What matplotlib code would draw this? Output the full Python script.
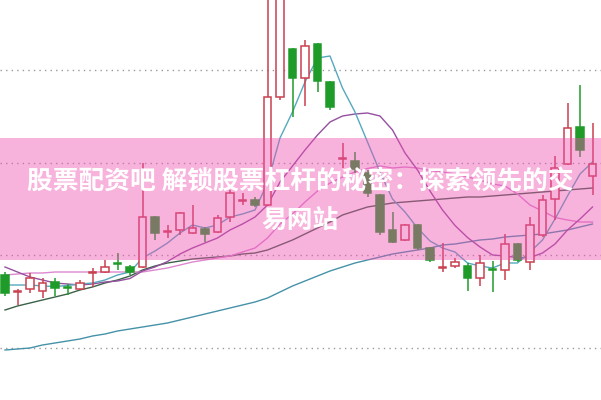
import matplotlib.pyplot as plt

# candle data, price units on an arbitrary scale
opens = [125, 108.5, 111, 109, 118, 113, 111, 127, 128, 137, 133, 133, 183, 168, 170, 167,
         171, 168, 183, 199.5, 200, 195, 303, 351, 322, 356, 318, 241.5, 239, 227, 205, 170,
         160, 175, 152, 132.5, 134, 134, 122, 131, 130, 156, 138, 165, 201, 236, 273, 224]
highs = [128, 111, 127, 122, 122, 116, 120, 132, 140, 147, 135, 237, 184, 175, 188, 195,
         173, 185, 210, 207, 203, 405, 408, 352, 360, 357, 319, 257, 248, 230, 206, 188,
         176, 176, 153, 157, 142, 137, 145, 139, 166, 157, 183, 205, 244, 297, 315, 277]
lows = [104, 95, 107, 102, 104, 105, 110, 113, 127, 130, 125, 132, 160, 162, 165, 166,
        158, 167, 178, 195, 193, 194, 300, 283, 294, 308, 290, 232, 227, 203, 165, 157,
        159, 150, 138, 128, 132, 109, 114, 108, 120, 138, 130, 163, 180, 235, 243, 205]
closes = [107, 109.5, 122, 117, 112, 112, 117, 128, 133, 136, 128, 183, 167, 169, 187, 172,
          166, 182, 207, 200.5, 195, 303, 403, 322, 354, 319, 293, 242.5, 231, 207, 168, 158,
          175, 152, 140, 133.5, 138, 122, 137, 130, 156, 140, 175, 200, 232, 272, 250, 236]

ma5 = [115, 115, 115, 114, 113.5, 114.5, 116, 117, 120, 125, 128, 142, 149, 157, 167, 175,
       172, 175, 183, 186, 190, 217, 262, 288, 318, 342, 344, 312, 288, 258, 228, 201,
       188, 172, 159, 152, 148, 137, 134, 132, 137, 137, 148, 160, 181, 204, 226, 238]
ma10 = [133, 128, 123, 120, 117, 116, 115, 116, 118, 119, 121.5, 129, 133, 138.5, 146, 152,
        157, 162, 170, 176, 183, 195, 218, 234, 250, 265, 278, 284, 286, 287, 284, 270,
        247, 230, 209, 190, 174.5, 162.5, 153, 145, 144, 142.4, 142.4, 147, 156, 170, 181, 193]
ma20 = [125, 126, 127, 127, 128, 128, 128, 128, 128, 128, 128, 128, 130, 132, 135, 138,
        140, 142, 144, 148, 152, 162, 176, 186, 198, 209, 217, 223, 228, 231.5, 234, 232,
        233, 232, 229.5, 228, 226, 223, 220, 216, 214, 206, 195, 189, 182.5, 180, 178, 178]
ma30 = [90, 94, 97, 100, 103, 106, 110, 113, 117, 120, 124, 130, 134, 137, 139, 141,
        142, 143, 144, 146, 147, 150, 155, 160, 166, 172, 178, 185, 189, 193, 195, 197,
        198, 199, 200, 201, 202, 203, 203, 204, 205, 206, 207, 208, 209, 210, 211, 212]
ma60 = [50, 51, 52, 55, 57, 59, 61, 64, 66, 69, 71, 73, 75, 77, 80, 83,
        86, 89, 92, 95, 98, 102, 108, 114, 119, 124, 129, 133, 137, 140, 143, 146,
        148, 150, 152, 155, 156, 158, 160, 161, 163, 164, 165, 166, 168, 170, 173, 176]

grid_levels = [52.5, 145, 237.5, 330]
title_lines = ["股票配资吧 解锁股票杠杆的秘密：探索领先的交", "易网站"]


def draw_candles(axis):
    up_color = "#c9404e"
    down_color = "#1f9b2a"
    body_width = 0.62
    for i in range(len(opens)):
        o, h, l, c = opens[i], highs[i], lows[i], closes[i]
        top = max(o, c)
        bottom = min(o, c)
        height = max(top - bottom, 0.8)
        if c >= o:
            color = up_color
            face = "white"
        else:
            color = down_color
            face = down_color
        axis.vlines(i, top, h, color=color, linewidth=1.1, zorder=3)
        axis.vlines(i, l, bottom, color=color, linewidth=1.1, zorder=3)
        axis.bar(i, height, bottom=bottom, width=body_width, facecolor=face,
                 edgecolor=color, linewidth=1.1, zorder=4)


def plot_chart():
    plt.rcParams["font.family"] = ["Noto Sans CJK SC", "DejaVu Sans"]
    fig = plt.figure(figsize=(6.01, 4.0), dpi=100)
    ax = fig.add_axes([0, 0, 1, 1])

    for level in grid_levels:
        ax.axhline(level, color="#9a9a9a", linewidth=1, linestyle=(0, (1, 3)), zorder=1)

    x = list(range(len(opens)))
    line_conf = {"linewidth": 1.0, "zorder": 2}
    ax.plot(x, ma60, color="#4592a8", **line_conf)
    ax.plot(x, ma30, color="#3b6146", **line_conf)
    ax.plot(x, ma20, color="#dd88d0", **line_conf)
    ax.plot(x, ma10, color="#95509f", **line_conf)
    ax.plot(x, ma5, color="#55a9bd", **line_conf)

    draw_candles(ax)

    # pink banner with title
    ax.axhspan(140, 262, color="#ef50b2", alpha=0.43, linewidth=0, zorder=5)
    ax.text(0.5, 0.545, title_lines[0], transform=ax.transAxes, ha="center", va="center",
            color="white", fontsize=18.5, fontweight="bold", zorder=6)
    ax.text(0.5, 0.4475, title_lines[1], transform=ax.transAxes, ha="center", va="center",
            color="white", fontsize=18.5, fontweight="bold", zorder=6)

    ax.set_xlim(-0.4, 47.68)
    ax.set_ylim(0, 400)
    ax.axis("off")

    plt.savefig("out.png", dpi=100)


if __name__ == "__main__":
    plot_chart()
